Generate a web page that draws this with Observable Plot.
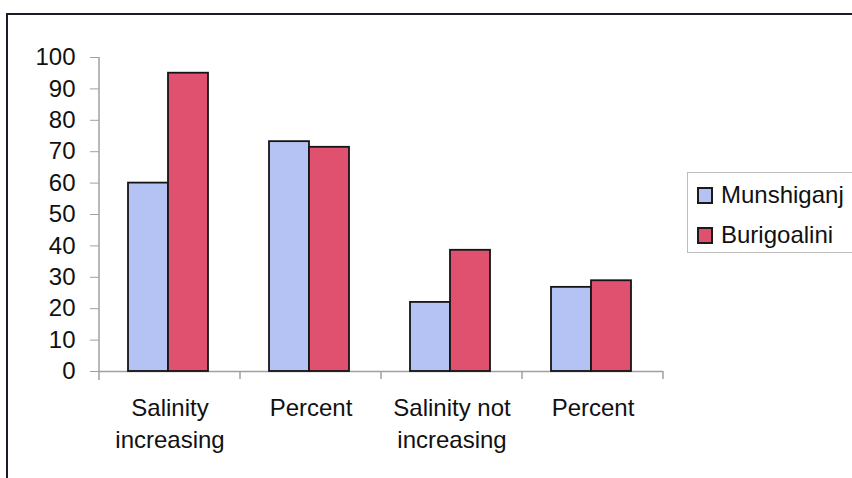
<!DOCTYPE html>
<html>
<head>
<meta charset="utf-8">
<script src="https://cdn.jsdelivr.net/npm/d3@7"></script>
<script src="https://cdn.jsdelivr.net/npm/@observablehq/plot@0.6"></script>
<style>
  html, body { margin: 0; padding: 0; background: #fff; }
  #wrap { position: relative; width: 852px; height: 478px; overflow: hidden; background: #fff;
          font-family: "Liberation Sans", Arial, sans-serif; }
  #frame { position: absolute; left: 6px; top: 13px; width: 900px; height: 520px;
           border: 2px solid #1c1c28; box-sizing: border-box; }
  #chart { position: absolute; left: 0; top: 0; }
  #legend { position: absolute; left: 687px; top: 172px; width: 200px; height: 81px;
            border: 1px solid #bdbdbd; box-sizing: border-box; font-size: 24px; color: #111; }
  .item { position: absolute; left: 9px; display: flex; align-items: center; white-space: nowrap; }
  .sw { width: 12px; height: 13px; border: 2px solid #1a1a1a; margin-right: 8px; }
</style>
</head>
<body>
<div id="wrap">
  <div id="frame"></div>
  <div id="chart"></div>
  <div id="legend"></div>
</div>
<script>
const categories = ["Salinity increasing", "Percent (increasing)", "Salinity not increasing", "Percent (not increasing)"];
const tickLabels = ["Salinity\nincreasing", "Percent", "Salinity not\nincreasing", "Percent"];
const series = ["Munshiganj", "Burigoalini"];
const munshiganj = [60, 73.2, 22, 26.8];
const burigoalini = [95, 71.4, 38.6, 28.9];
const colors = ["#b5c3f4", "#e0506f"];
const yTicks = [0, 10, 20, 30, 40, 50, 60, 70, 80, 90, 100];

const data = categories.flatMap((c, i) => [
  {category: c, series: series[0], value: munshiganj[i]},
  {category: c, series: series[1], value: burigoalini[i]}
]);

const chart = Plot.plot({
  width: 852,
  height: 478,
  marginLeft: 98,
  marginRight: 188,
  marginTop: 57,
  marginBottom: 107,
  style: {fontFamily: "'Liberation Sans', Arial, sans-serif", fontSize: "24px", background: "transparent", overflow: "visible", color: "#111"},
  fx: {domain: categories, padding: 0, label: null},
  x: {domain: series, paddingInner: 0, paddingOuter: 0.72, align: 0.47, axis: null, label: null},
  y: {domain: [0, 100], label: null},
  color: {domain: series, range: colors},
  marks: [
    Plot.axisY({ticks: yTicks, tickSize: 9, tickPadding: 15, stroke: "#a0a0a0", fill: "#111", fontSize: 24, label: null}),
    Plot.axisFx({anchor: "bottom", tickSize: 0, tickPadding: 22, lineHeight: 1.33, fontSize: 24, fill: "#111", label: null,
                 tickFormat: d => tickLabels[categories.indexOf(d)]}),
    Plot.ruleY([0], {stroke: "#a0a0a0", strokeWidth: 1.5}),
    Plot.barY(data, {fx: "category", x: "series", y: "value", fill: "series", stroke: "#151515", strokeWidth: 1.8})
  ]
});
document.getElementById("chart").appendChild(chart);

// axis line and category boundary ticks derived from the plot's own scales
const fx = chart.scale("fx");
const ys = chart.scale("y");
const bounds = categories.map(c => fx.apply(c)).concat([fx.apply(categories[categories.length - 1]) + fx.bandwidth]);
const svg = d3.select(chart);
const g = svg.append("g").attr("stroke", "#a0a0a0").attr("stroke-width", 1.5);
g.append("line").attr("x1", bounds[0]).attr("x2", bounds[0]).attr("y1", ys.apply(100)).attr("y2", ys.apply(0) + 9);
bounds.slice(1).forEach(b => g.append("line").attr("x1", b).attr("x2", b).attr("y1", ys.apply(0)).attr("y2", ys.apply(0) + 8));

// legend
const legend = document.getElementById("legend");
series.forEach((s, i) => {
  const it = document.createElement("div");
  it.className = "item";
  it.style.top = (i === 0 ? 8 : 48) + "px";
  const sw = document.createElement("div");
  sw.className = "sw";
  sw.style.background = colors[i];
  const t = document.createElement("span");
  t.textContent = s;
  it.appendChild(sw); it.appendChild(t);
  legend.appendChild(it);
});
</script>
</body>
</html>
